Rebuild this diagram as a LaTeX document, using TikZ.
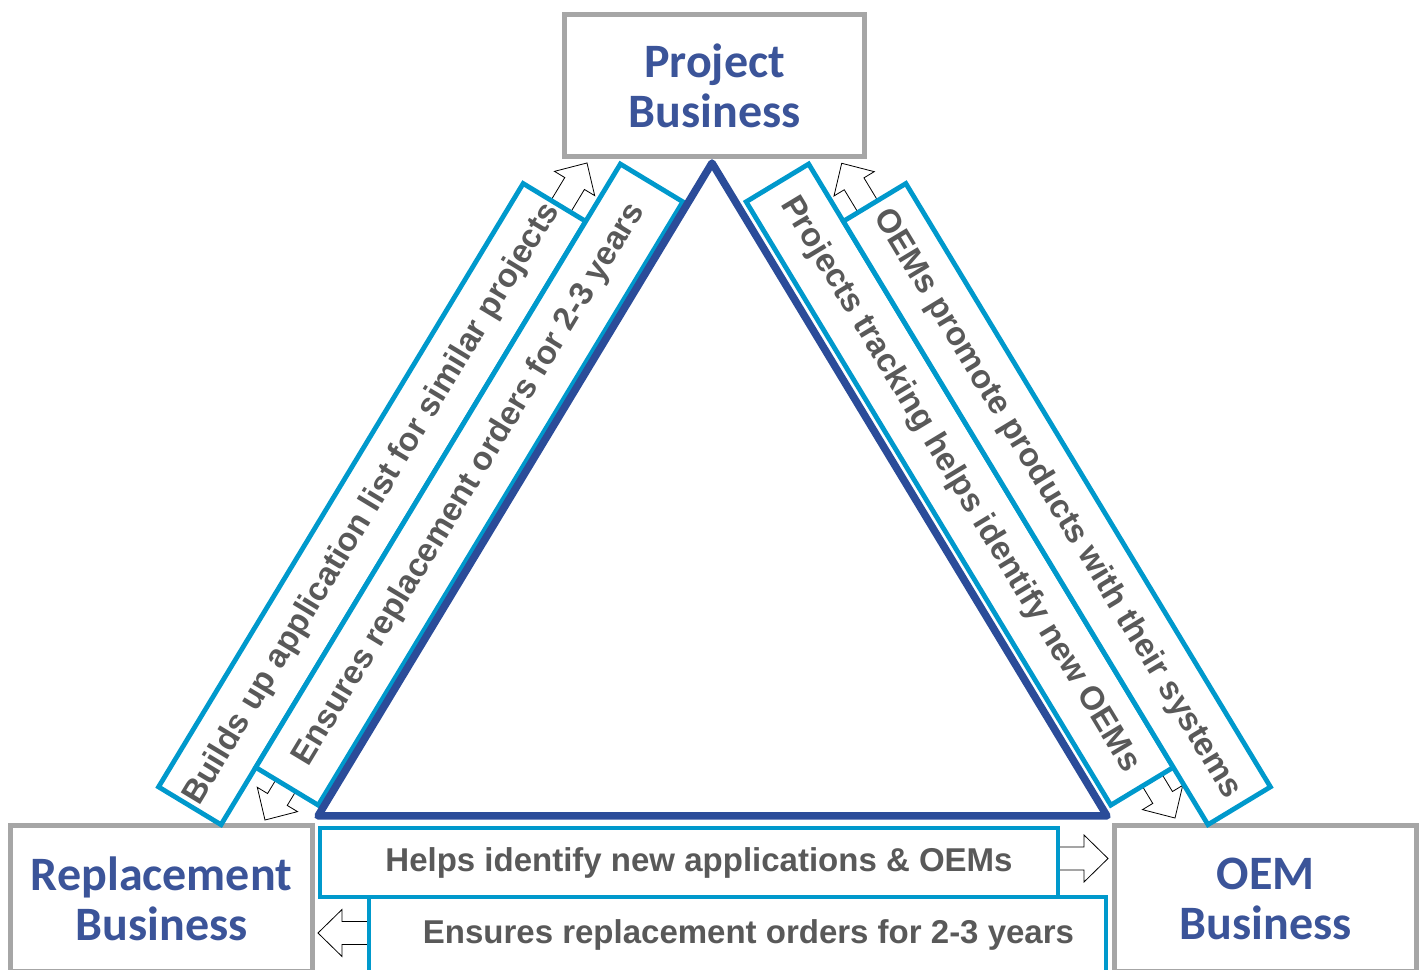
\documentclass[tikz,border=0pt]{standalone}
\usepackage{fontspec}
\setmainfont{Liberation Sans}
\newfontfamily\titlefont{Carlito}
\definecolor{stripcyan}{RGB}{0,153,204}
\definecolor{triblue}{RGB}{43,76,153}
\definecolor{boxgray}{RGB}{166,166,166}
\definecolor{titleblue}{RGB}{59,84,153}
\definecolor{labelgray}{RGB}{89,89,89}
\begin{document}
\begin{tikzpicture}[x=1pt,y=1pt,
  bizbox/.style={draw=boxgray, line width=5pt, fill=white,
    minimum width=302pt, minimum height=146pt, inner sep=0pt,
    align=center, text=titleblue,
    font=\titlefont\bfseries\fontsize{48}{50}\selectfont},
  band/.style={draw=stripcyan, line width=4.8pt, fill=white, inner sep=0pt,
    text=labelgray, font=\bfseries\fontsize{33}{40}\selectfont},
  slant/.style={band, minimum width=705pt, minimum height=73pt},
  flat/.style={band, minimum height=69pt},
  hollow arrow/.pic={
    \draw[line width=0.8pt, fill=white, line join=miter]
      (-14,11.5) -- (23,11.5) -- (23,23.5) -- (47,0) -- (23,-23.5)
      -- (23,-11.5) -- (-14,-11.5) -- cycle;}
]
\useasboundingbox (0,0) rectangle (1426,969);

% business boxes
\node[bizbox, minimum width=300pt, minimum height=142pt] (proj) at (714.5,883.5) {Project\\Business};
\node[bizbox] (repl) at (161.5,70.5) {Replacement\\Business};
\node[bizbox] (oem) at (1265.5,70.5) {OEM\\Business};

% hollow direction arrows
\pic[rotate=58.86]  at (562.7,765.8) {hollow arrow};
\pic[rotate=238.86] at (289.3,189.2) {hollow arrow};
\pic[rotate=121.14] at (866,765.5)   {hollow arrow};
\pic[rotate=-58.86] at (1150.7,191.2) {hollow arrow};
\pic at (1061,110.5) {hollow arrow};
\pic[rotate=180] at (365,36) {hollow arrow};

% slanted label bands
\node[slant, rotate=58.86]  (s1) at (372.1,464.9) {Builds up application list for similar projects};
\node[slant, rotate=58.86]  (s2) at (469.3,484.4) {Ensures replacement orders for 2-3 years};
\node[slant, rotate=-58.86] (s3) at (959.7,484.4) {Projects tracking helps identify new OEMs};
\node[slant, rotate=-58.86] (s4) at (1056.9,464.9) {OEMs promote products with their systems};

% horizontal label bands
\node[flat, minimum width=738pt] (s5) at (689,106.5) {\hspace*{20pt}Helps identify new applications \& OEMs};
\node[flat, minimum width=737pt, minimum height=76pt] (s6) at (737.5,34) {\hspace*{22pt}Ensures replacement orders for 2-3 years};

% central triangle
\coordinate (apex) at (712,806);
\coordinate (bl) at (318,153);
\coordinate (br) at (1107,153);
\draw[triblue, line width=7.5pt, line join=round] (apex) -- (bl) -- (br) -- cycle;
\end{tikzpicture}
\end{document}
